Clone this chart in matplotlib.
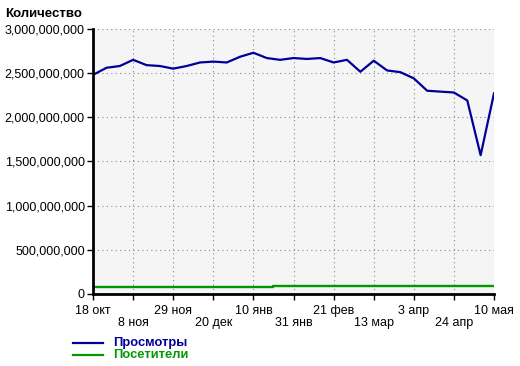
import matplotlib.pyplot as plt
from matplotlib.ticker import FuncFormatter

plt.rcParams['font.family'] = ['Liberation Sans', 'DejaVu Sans']

# weekly points, 18 oct .. 10 may
views = [2.48e9, 2.56e9, 2.58e9, 2.65e9, 2.59e9, 2.58e9, 2.55e9, 2.58e9,
         2.62e9, 2.63e9, 2.62e9, 2.685e9, 2.73e9, 2.67e9, 2.65e9, 2.67e9,
         2.66e9, 2.67e9, 2.62e9, 2.65e9, 2.515e9, 2.64e9, 2.53e9, 2.51e9,
         2.44e9, 2.30e9, 2.29e9, 2.28e9, 2.19e9, 1.57e9, 2.27e9]
visitors = [83e6] * 14 + [94e6] * 11 + [84e6] * 6
tick_pos = [0, 3, 6, 9, 12, 15, 18, 21, 24, 27, 30]
tick_labels = ['18 окт', '8 ноя', '29 ноя', '20 дек', '10 янв', '31 янв',
               '21 фев', '13 мар', '3 апр', '24 апр', '10 мая']

blue = '#000099'
green = '#009900'

fig = plt.figure(figsize=(5.2, 3.66), dpi=100)
ax = fig.add_axes([0.179, 0.197, 0.771, 0.724])
ax.set_facecolor('#f5f5f5')

x = range(len(views))
ax.plot(x, views, color=blue, lw=1.6)
ax.plot(x, visitors, color=green, lw=1.7, drawstyle='steps-mid')

ax.set_xlim(0, 30)
ax.set_ylim(0, 3e9)
ax.set_yticks([0, 5e8, 1e9, 1.5e9, 2e9, 2.5e9, 3e9])
ax.yaxis.set_major_formatter(FuncFormatter(lambda v, p: f'{int(v):,}'))
ax.set_xticks(tick_pos)
ax.set_xticklabels([t if i % 2 == 0 else '\n' + t for i, t in enumerate(tick_labels)],
                   linespacing=1.0)

ax.grid(True, color='#888888', linestyle=(0, (1, 3)), lw=0.8)
for s in ['top', 'right']:
    ax.spines[s].set_visible(False)
for s in ['left', 'bottom']:
    ax.spines[s].set_linewidth(2)
ax.tick_params(length=4, width=1, labelsize=9, pad=2)
ax.tick_params(axis='x', pad=4)

fig.text(0.01, 0.953, 'Количество', fontsize=9.5, fontweight='bold')

fig.lines.append(plt.Line2D([0.14, 0.198], [0.064, 0.064], color=blue, lw=1.6, transform=fig.transFigure))
fig.lines.append(plt.Line2D([0.14, 0.198], [0.031, 0.031], color=green, lw=1.6, transform=fig.transFigure))
fig.text(0.217, 0.064, 'Просмотры', color=blue, fontsize=9.3, fontweight='bold', va='center')
fig.text(0.217, 0.031, 'Посетители', color=green, fontsize=9.3, fontweight='bold', va='center')

fig.savefig('out.png', dpi=100)
